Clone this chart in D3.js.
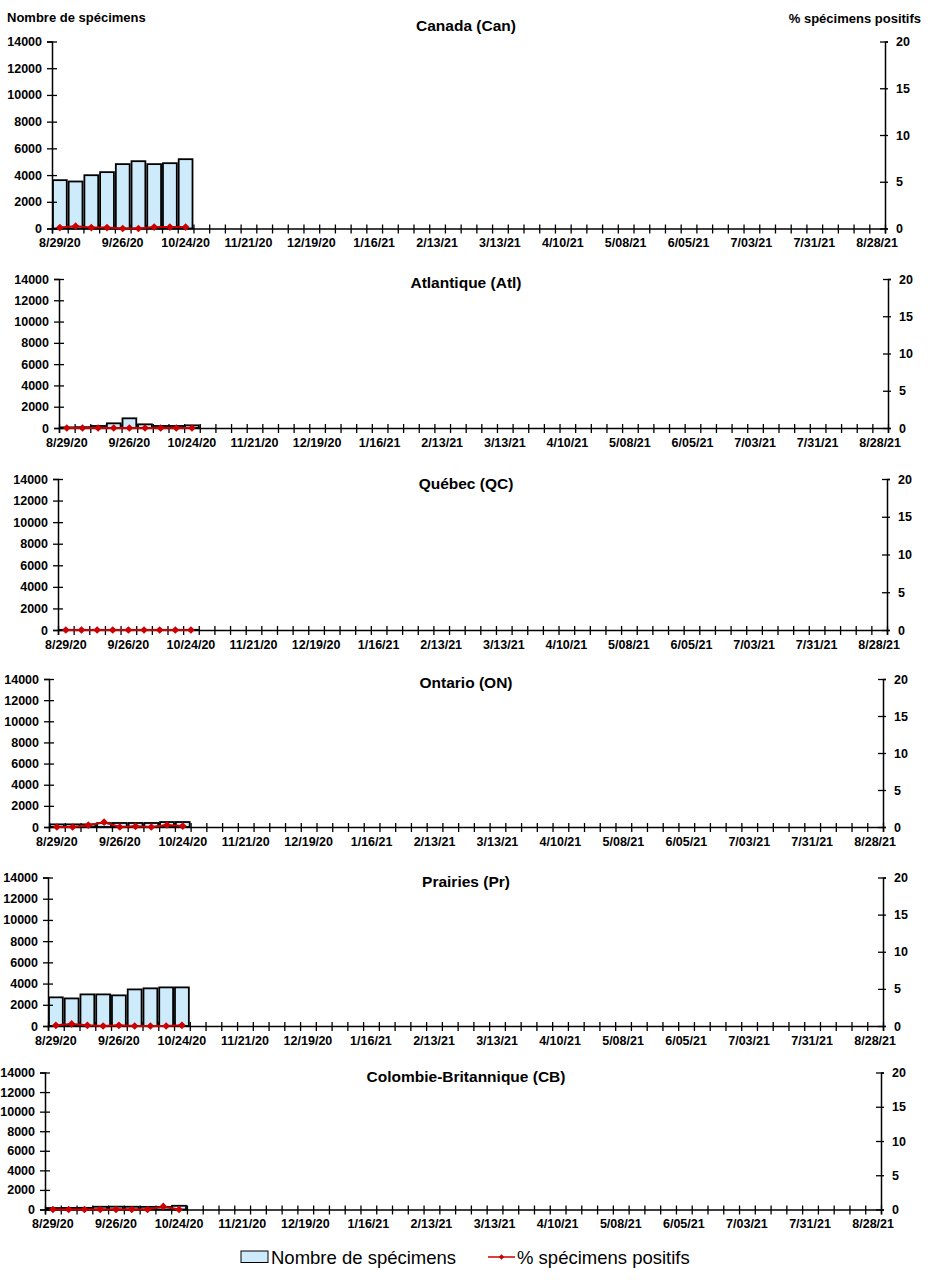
<!DOCTYPE html>
<html>
<head>
<meta charset="utf-8">
<script src="https://cdn.jsdelivr.net/npm/d3@7"></script>
<style>
  html, body { margin: 0; padding: 0; background: #fff; }
  svg { display: block; font-family: Arial, "Liberation Sans", sans-serif; }
</style>
</head>
<body>
<svg id="chart" width="928" height="1280"></svg>
<script>
// ---- Data ----
const weeks = ["8/29/20","9/05/20","9/12/20","9/19/20","9/26/20","10/03/20","10/10/20","10/17/20","10/24/20","10/31/20",
  "11/07/20","11/14/20","11/21/20","11/28/20","12/05/20","12/12/20","12/19/20","12/26/20","1/02/21","1/09/21",
  "1/16/21","1/23/21","1/30/21","2/06/21","2/13/21","2/20/21","2/27/21","3/06/21","3/13/21","3/20/21",
  "3/27/21","4/03/21","4/10/21","4/17/21","4/24/21","5/01/21","5/08/21","5/15/21","5/22/21","5/29/21",
  "6/05/21","6/12/21","6/19/21","6/26/21","7/03/21","7/10/21","7/17/21","7/24/21","7/31/21","8/07/21",
  "8/14/21","8/21/21","8/28/21"];
const tickLabels = ["8/29/20","9/26/20","10/24/20","11/21/20","12/19/20","1/16/21","2/13/21","3/13/21","4/10/21","5/08/21","6/05/21","7/03/21","7/31/21","8/28/21"];
const countTicks = [0,2000,4000,6000,8000,10000,12000,14000];
const pctTicks = [0,5,10,15,20];

const regions = ["Canada (Can)","Atlantique (Atl)","Québec (QC)","Ontario (ON)","Prairies (Pr)","Colombie-Britannique (CB)"];

const canadaCount = [3620,3520,3990,4220,4820,5040,4820,4890,5190];
const canadaPct   = [0.1,0.25,0.1,0.1,0.0,0.0,0.15,0.15,0.15];
const atlCount    = [60,80,190,440,910,345,190,190,250];
const atlPct      = [0,0,0,0,0,0,0,0,0];
const qcCount     = [15,15,15,15,15,15,15,15,15];
const qcPct       = [0,0,0,0,0,0,0,0,0];
const onCount     = [250,250,250,370,380,380,380,470,470];
const onPct       = [0,0,0.25,0.65,0,0.1,0,0.27,0.12];
const prCount     = [2700,2600,2980,2980,2890,3450,3550,3640,3640];
const prPct       = [0.1,0.27,0.1,0,0.1,0,0,0,0.1];
const cbCount     = [150,160,170,280,290,280,270,260,380];
const cbPct       = [0,0,0,0,0,0,0,0.45,0];

const counts = [canadaCount, atlCount, qcCount, onCount, prCount, cbCount];
const pcts = [canadaPct, atlPct, qcPct, onPct, prPct, cbPct];

// ---- Layout (plot frames) ----
const frames = [
  {l:52, r:885, t:41.5, b:228.5, ty:26},
  {l:59, r:888, t:279, b:428, ty:283},
  {l:58, r:887, t:479, b:630, ty:484},
  {l:49, r:883, t:679, b:827, ty:683},
  {l:48, r:883, t:877.5, b:1026, ty:882},
  {l:45, r:881, t:1072.5, b:1209.5, ty:1077}
];

const BAR_FILL = "#CDEBFB";
const RED = "#CC0000";
const FONT = "Arial, 'Liberation Sans', sans-serif";
const svg = d3.select("#chart");

regions.forEach((name, i) => {
  const f = frames[i];
  const g = svg.append("g");
  const x = d3.scaleBand().domain(weeks).range([f.l, f.r]).paddingInner(0).paddingOuter(0);
  const xIdx = d3.scaleLinear().domain([0, weeks.length]).range([f.l, f.r]);
  const yL = d3.scaleLinear().domain([0, 14000]).range([f.b, f.t]);
  const yR = d3.scaleLinear().domain([0, 20]).range([f.b, f.t]);

  const cData = counts[i].map((v, k) => ({w: weeks[k], v}));
  const pData = pcts[i].map((v, k) => ({w: weeks[k], v}));
  const bw = x.bandwidth();
  const pad = bw * 0.06;

  // bars
  g.selectAll("rect.bar").data(cData).join("rect")
    .attr("class", "bar")
    .attr("x", d => x(d.w) + pad)
    .attr("width", bw - 2 * pad)
    .attr("y", d => yL(d.v))
    .attr("height", d => yL(0) - yL(d.v))
    .attr("fill", BAR_FILL)
    .attr("stroke", "#000")
    .attr("stroke-width", 1.8);

  // x axis with crossing ticks at category boundaries
  const xa = g.append("g").attr("transform", `translate(0,${f.b})`)
    .call(d3.axisBottom(xIdx).tickValues(d3.range(weeks.length + 1)).tickSize(5).tickFormat(""));
  xa.select(".domain").attr("stroke", "#000").attr("stroke-width", 1.5);
  xa.selectAll(".tick line").attr("y1", -4).attr("stroke-width", 1.3);

  // x labels
  const xl = g.append("g").attr("transform", `translate(0,${f.b})`)
    .call(d3.axisBottom(x).tickValues(tickLabels).tickSize(0).tickPadding(10));
  xl.select(".domain").remove();
  xl.selectAll("text").attr("font-size", "12.5px").attr("font-weight", "bold").attr("fill", "#000")
    .attr("font-family", FONT);

  // left axis
  const la = g.append("g").attr("transform", `translate(${f.l},0)`)
    .call(d3.axisLeft(yL).tickValues(countTicks).tickSize(5).tickPadding(5).tickFormat(d3.format("d")));
  la.select(".domain").attr("stroke", "#000").attr("stroke-width", 1.5);
  la.selectAll(".tick line").attr("x1", 5).attr("stroke-width", 1.3);
  la.selectAll("text").attr("font-size", "12.5px").attr("font-weight", "bold").attr("fill", "#000")
    .attr("font-family", FONT);

  // right axis
  const ra = g.append("g").attr("transform", `translate(${f.r},0)`)
    .call(d3.axisRight(yR).tickValues(pctTicks).tickSize(3).tickPadding(8));
  ra.select(".domain").attr("stroke", "#000").attr("stroke-width", 1.5);
  ra.selectAll(".tick line").attr("x1", -5).attr("stroke-width", 1.3);
  ra.selectAll("text").attr("font-size", "12.5px").attr("font-weight", "bold").attr("fill", "#000")
    .attr("font-family", FONT);

  // line + markers
  const line = d3.line().x(d => x(d.w) + bw / 2).y(d => yR(d.v));
  g.append("path").datum(pData).attr("d", line)
    .attr("fill", "none").attr("stroke", RED).attr("stroke-width", 2);
  g.selectAll("path.mk").data(pData).join("path")
    .attr("class", "mk")
    .attr("d", d3.symbol(d3.symbolSquare, 30))
    .attr("transform", d => `translate(${x(d.w) + bw / 2},${yR(d.v)}) rotate(45)`)
    .attr("fill", RED);

  // title
  g.append("text").attr("x", 466).attr("y", f.ty).attr("dy", "0.35em")
    .attr("text-anchor", "middle").attr("font-size", "15.5px").attr("font-weight", "bold")
    .text(name);
});

// axis titles
svg.append("text").attr("x", 7).attr("y", 17).attr("dy", "0.35em")
  .attr("font-size", "13px").attr("font-weight", "bold").text("Nombre de spécimens");
svg.append("text").attr("x", 921).attr("y", 18).attr("dy", "0.35em").attr("text-anchor", "end")
  .attr("font-size", "13px").attr("font-weight", "bold").text("% spécimens positifs");

// legend
const lg = svg.append("g");
lg.append("rect").attr("x", 241).attr("y", 1251).attr("width", 27).attr("height", 11.5)
  .attr("fill", BAR_FILL).attr("stroke", "#000").attr("stroke-width", 1);
lg.append("text").attr("x", 271).attr("y", 1264).attr("font-size", "18.5px").text("Nombre de spécimens");
lg.append("line").attr("x1", 488).attr("x2", 515).attr("y1", 1257).attr("y2", 1257)
  .attr("stroke", RED).attr("stroke-width", 1.5);
lg.append("path").attr("d", d3.symbol(d3.symbolSquare, 14))
  .attr("transform", "translate(501.5,1257) rotate(45)").attr("fill", RED);
lg.append("text").attr("x", 517).attr("y", 1264).attr("font-size", "18.5px").text("% spécimens positifs");
</script>
</body>
</html>
